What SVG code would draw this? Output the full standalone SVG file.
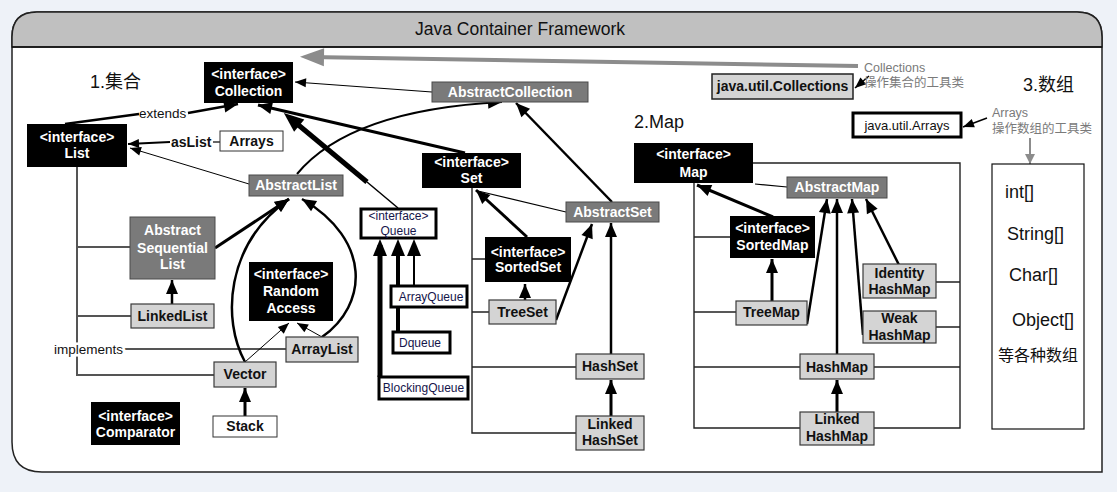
<svg xmlns="http://www.w3.org/2000/svg" width="1117" height="492" viewBox="0 0 1117 492">
<style>
.bk{fill:#000}
.ab{fill:#7a7a7a;stroke:#4a4a4a;stroke-width:1}
.lt{fill:#d4d4d4;stroke:#3a3a3a;stroke-width:1.2}
.wt{fill:#fff;stroke:#333;stroke-width:1}
.qb{fill:#fff;stroke:#000;stroke-width:3}
text{font-family:"Liberation Sans",Arial,"Noto Sans CJK SC",sans-serif}
.b{font-weight:bold;font-size:14px;text-anchor:middle;fill:#111}
.w{fill:#fff}
.q{font-size:12px;text-anchor:middle;fill:#15154a}
.lbl{font-size:13.5px;fill:#111}
.gl{font-size:12.5px;fill:#7a7a7a}
.arr{font-size:18px;fill:#111}
.hd{font-size:18px;fill:#111}
.halo{stroke:#fff;stroke-width:5;paint-order:stroke}
.tl{fill:none;stroke:#555;stroke-width:2}
.tk{fill:none;stroke:#222;stroke-width:1.4}
.c{fill:none;stroke:#000}
</style>
<defs>
<marker id="a" markerUnits="userSpaceOnUse" markerWidth="14" markerHeight="12" refX="14" refY="6" orient="auto" overflow="visible"><path d="M0,0 L14,6 L0,12 z" fill="#000"/></marker>
<marker id="s" markerUnits="userSpaceOnUse" markerWidth="11" markerHeight="9" refX="11" refY="4.5" orient="auto" overflow="visible"><path d="M0,0 L11,4.5 L0,9 z" fill="#000"/></marker>
<marker id="b" markerUnits="userSpaceOnUse" markerWidth="20" markerHeight="16" refX="12" refY="8" orient="auto" overflow="visible"><path d="M0,0 L20,8 L0,16 z" fill="#000"/></marker>
<marker id="q" markerUnits="userSpaceOnUse" markerWidth="17" markerHeight="14" refX="11" refY="7" orient="auto" overflow="visible"><path d="M0,0 L17,7 L0,14 z" fill="#000"/></marker>
<marker id="g" markerUnits="userSpaceOnUse" markerWidth="24" markerHeight="18" refX="14" refY="9" orient="auto" overflow="visible"><path d="M0,0 L24,9 L0,18 z" fill="#8c8c8c"/></marker>
<marker id="gs" markerUnits="userSpaceOnUse" markerWidth="10" markerHeight="10" refX="10" refY="5" orient="auto" overflow="visible"><path d="M0,0 L10,5 L0,10 z" fill="#8c8c8c"/></marker>
</defs>
<rect x="0" y="0" width="1117" height="492" fill="#eef2f8"/>
<g id="frame">
<path d="M12,37 Q12,12 37,12 H1077 Q1102,12 1102,37 V472 H42 Q12,472 12,442 Z" fill="#fff" stroke="#222" stroke-width="1.5"/>
<path d="M12,47 V37 Q12,12 37,12 H1077 Q1102,12 1102,37 V47 Z" fill="#c0c0c0" stroke="#222" stroke-width="1.5"/>
<line x1="12" y1="47" x2="1102" y2="47" stroke="#111" stroke-width="1.5"/>
<text x="520" y="35" font-size="17.5" text-anchor="middle" fill="#111">Java Container Framework</text>
</g>
<g id="headings">
<text class="hd" x="90" y="88">1.集合</text>
<text class="hd" x="634" y="128">2.Map</text>
<text class="hd" x="1023" y="91">3.数组</text>
</g>
<g id="connectors">
<!-- gray util arrow -->
<path d="M858,66 L310,57" stroke="#8c8c8c" stroke-width="4" fill="none" marker-end="url(#g)"/>
<path class="c" d="M869,76 L855,88" stroke-width="1.5" marker-end="url(#s)"/>
<path class="c" d="M987,118 L963,127" stroke-width="1.5" marker-end="url(#s)"/>
<path d="M1030,138 V164" stroke="#8c8c8c" stroke-width="2" fill="none" marker-end="url(#gs)"/>
<!-- list tree -->
<path class="tl" d="M77,167 V375 H214 M77,247 H130 M77,316 H131"/>
<path class="tl" d="M124,349 H286"/>
<!-- extends / asList -->
<path class="c" d="M65,124 L139,114" stroke-width="2.5"/>
<path class="c" d="M188,113 L238,104" stroke-width="2.5" marker-end="url(#a)"/>
<path class="c" d="M220,142 H213" stroke-width="1.2"/>
<path class="c" d="M170,142 L128,144" stroke-width="1.8" marker-end="url(#s)"/>
<path class="c" d="M249,184 L130,148" stroke-width="1" marker-end="url(#s)"/>
<path class="c" d="M215,248 L289,199" stroke-width="3" marker-end="url(#a)"/>
<path class="c" d="M172,304 V280" stroke-width="2.5" marker-end="url(#a)"/>
<path class="c" d="M245,362 C222,320 225,245 289,199" stroke-width="2.5" marker-end="url(#a)"/>
<path class="c" d="M322,337 C368,305 372,240 302,199" stroke-width="2.5" marker-end="url(#a)"/>
<path class="c" d="M245,362 L289,323" stroke-width="1" marker-end="url(#s)"/>
<path class="c" d="M322,337 L297,323" stroke-width="1" marker-end="url(#s)"/>
<path class="c" d="M245,416 V388" stroke-width="3" marker-end="url(#a)"/>
<path class="c" d="M297,174 Q350,110 502,102" stroke-width="2" marker-end="url(#a)"/>
<!-- collection -->
<path class="c" d="M432,92 L295,82" stroke-width="1.2" marker-end="url(#s)"/>
<path class="c" d="M465,153 L258,105" stroke-width="3" marker-end="url(#a)"/>
<path class="c" d="M398,208 L367,182" stroke-width="1.5"/>
<path class="c" d="M367,182 L290,118" stroke-width="5" marker-end="url(#b)"/>
<!-- queue -->
<path class="c" d="M380,377 V245" stroke-width="5" marker-end="url(#q)"/>
<path class="c" d="M398,332 V245" stroke-width="4" marker-end="url(#q)"/>
<path class="c" d="M414,287 V245" stroke-width="2" marker-end="url(#q)"/>
<!-- set -->
<path class="tk" d="M472,188 V433 H576 M472,259 H485 M472,312 H489 M472,367 H576"/>
<path class="c" d="M566,212 L478,191" stroke-width="1.2"/>
<path class="c" d="M527,237 L476,190" stroke-width="3" marker-end="url(#a)"/>
<path class="c" d="M525,300 V284" stroke-width="2.5" marker-end="url(#a)"/>
<path class="c" d="M556,320 L592,224" stroke-width="2.5" marker-end="url(#a)"/>
<path class="c" d="M611,354 V223" stroke-width="2.5" marker-end="url(#a)"/>
<path class="c" d="M611,416 V380" stroke-width="3" marker-end="url(#a)"/>
<path class="c" d="M612,202 L516,103" stroke-width="2.5" marker-end="url(#a)"/>
<!-- map -->
<path class="tk" d="M753,163 H960 V428 H694 V183 M694,237 H730 M694,312 H736 M694,367 H800 M960,282 H936 M960,327 H936 M960,367 H874"/>
<path class="c" d="M787,187 L755,184" stroke-width="1.2"/>
<path class="c" d="M773,217 L697,185" stroke-width="3" marker-end="url(#a)"/>
<path class="c" d="M772,301 V259" stroke-width="3" marker-end="url(#a)"/>
<path class="c" d="M807,324 L827,199" stroke-width="2.5" marker-end="url(#a)"/>
<path class="c" d="M837,354 V199" stroke-width="2.5" marker-end="url(#a)"/>
<path class="c" d="M837,412 V380" stroke-width="3" marker-end="url(#a)"/>
<path class="c" d="M863,335 L852,199" stroke-width="2.5" marker-end="url(#a)"/>
<path class="c" d="M899,265 L866,199" stroke-width="2.5" marker-end="url(#a)"/>
</g>
<g id="connector-labels">
<text class="lbl" x="139" y="118">extends</text>
<text x="171" y="147" font-size="14" font-weight="bold" fill="#111">asList</text>
<text class="lbl halo" x="54" y="354">implements</text>
</g>
<g id="n-collection"><rect class="bk" x="204" y="62" width="89" height="41"/><text class="b w" x="248.5" y="79">&lt;interface&gt;</text><text class="b w" x="248.5" y="96">Collection</text></g>
<g id="n-abstractcollection"><rect class="ab" x="432" y="82" width="156" height="20"/><text class="b w" x="510" y="97">AbstractCollection</text></g>
<g id="n-list"><rect class="bk" x="27" y="124" width="100" height="43"/><text class="b w" x="77" y="142">&lt;interface&gt;</text><text class="b w" x="77" y="158">List</text></g>
<g id="n-arrays"><rect class="wt" x="220" y="131" width="63" height="20"/><text class="b" x="251.5" y="146">Arrays</text></g>
<g id="n-abstractlist"><rect class="ab" x="249" y="175" width="94" height="21"/><text class="b w" x="296" y="190">AbstractList</text></g>
<g id="n-abstractsequentiallist"><rect class="ab" x="130" y="217" width="85" height="62"/><text class="b w" x="172.5" y="235">Abstract</text><text class="b w" x="172.5" y="253">Sequential</text><text class="b w" x="172.5" y="269">List</text></g>
<g id="n-linkedlist"><rect class="lt" x="131" y="304" width="83" height="24"/><text class="b" x="172.5" y="321">LinkedList</text></g>
<g id="n-randomaccess"><rect class="bk" x="249" y="262" width="84" height="59"/><text class="b w" x="291" y="279">&lt;interface&gt;</text><text class="b w" x="291" y="296">Random</text><text class="b w" x="291" y="313">Access</text></g>
<g id="n-arraylist"><rect class="lt" x="286" y="337" width="72" height="25"/><text class="b" x="322" y="354">ArrayList</text></g>
<g id="n-vector"><rect class="lt" x="214" y="362" width="62" height="25"/><text class="b" x="245" y="379">Vector</text></g>
<g id="n-stack"><rect class="wt" x="213" y="416" width="64" height="21"/><text class="b" x="245" y="431">Stack</text></g>
<g id="n-comparator"><rect class="bk" x="91" y="402" width="89" height="43"/><text class="b w" x="135.5" y="421">&lt;interface&gt;</text><text class="b w" x="135.5" y="437">Comparator</text></g>
<g id="n-queue"><rect class="qb" x="361" y="209" width="75" height="29"/><text class="q" x="398.5" y="220">&lt;interface&gt;</text><text class="q" x="398.5" y="235">Queue</text></g>
<g id="n-arrayqueue"><rect class="qb" x="391" y="286" width="76" height="21"/><text class="q" x="431" y="301">ArrayQueue</text></g>
<g id="n-dqueue"><rect class="qb" x="393" y="332" width="57" height="21"/><text class="q" x="420" y="347">Dqueue</text></g>
<g id="n-blockingqueue"><rect class="qb" x="379" y="377" width="89" height="22"/><text class="q" x="423.5" y="392">BlockingQueue</text></g>
<g id="n-set"><rect class="bk" x="422" y="153" width="99" height="35"/><text class="b w" x="471.5" y="167">&lt;interface&gt;</text><text class="b w" x="471.5" y="183">Set</text></g>
<g id="n-abstractset"><rect class="ab" x="566" y="202" width="93" height="20"/><text class="b w" x="612.5" y="217">AbstractSet</text></g>
<g id="n-sortedset"><rect class="bk" x="485" y="237" width="86" height="45"/><text class="b w" x="528" y="257">&lt;interface&gt;</text><text class="b w" x="528" y="272">SortedSet</text></g>
<g id="n-treeset"><rect class="lt" x="489" y="300" width="67" height="24"/><text class="b" x="522.5" y="317">TreeSet</text></g>
<g id="n-hashset"><rect class="lt" x="576" y="354" width="68" height="25"/><text class="b" x="610" y="371">HashSet</text></g>
<g id="n-linkedhashset"><rect class="lt" x="576" y="416" width="68" height="34"/><text class="b" x="610" y="429">Linked</text><text class="b" x="610" y="445">HashSet</text></g>
<g id="n-map"><rect class="bk" x="634" y="143" width="119" height="40"/><text class="b w" x="693.5" y="159">&lt;interface&gt;</text><text class="b w" x="693.5" y="177">Map</text></g>
<g id="n-abstractmap"><rect class="ab" x="787" y="177" width="100" height="21"/><text class="b w" x="837" y="192">AbstractMap</text></g>
<g id="n-sortedmap"><rect class="bk" x="730" y="216" width="85" height="42"/><text class="b w" x="772.5" y="233">&lt;interface&gt;</text><text class="b w" x="772.5" y="250">SortedMap</text></g>
<g id="n-treemap"><rect class="lt" x="736" y="301" width="71" height="24"/><text class="b" x="771.5" y="317">TreeMap</text></g>
<g id="n-hashmap"><rect class="lt" x="800" y="354" width="74" height="25"/><text class="b" x="837" y="372">HashMap</text></g>
<g id="n-linkedhashmap"><rect class="lt" x="800" y="412" width="74" height="33"/><text class="b" x="837" y="424">Linked</text><text class="b" x="837" y="441">HashMap</text></g>
<g id="n-identityhashmap"><rect class="lt" x="863" y="264" width="73" height="34"/><text class="b" x="899.5" y="278">Identity</text><text class="b" x="899.5" y="294">HashMap</text></g>
<g id="n-weakhashmap"><rect class="lt" x="863" y="311" width="73" height="32"/><text class="b" x="899.5" y="323">Weak</text><text class="b" x="899.5" y="340">HashMap</text></g>
<g id="n-collections"><rect x="712" y="74" width="141" height="25" fill="#d4d4d4" stroke="#222" stroke-width="1.5"/><text class="b" x="782.5" y="91">java.util.Collections</text></g>
<g id="n-collections-label"><text class="gl" x="864" y="72" font-size="12">Collections</text><text class="gl" x="864" y="87">操作集合的工具类</text></g>
<g id="n-utilarrays"><rect class="qb" x="853" y="113" width="108" height="24"/><text x="907" y="130" font-size="13" text-anchor="middle" fill="#111">java.util.Arrays</text></g>
<g id="n-arrays-label"><text class="gl" x="992" y="117" font-size="12">Arrays</text><text class="gl" x="992" y="133">操作数组的工具类</text></g>
<g id="n-arraybox"><rect x="992" y="164" width="92" height="265" fill="#fff" stroke="#111" stroke-width="1.2"/>
<text class="arr" x="1005" y="198">int[]</text>
<text class="arr" x="1007" y="240">String[]</text>
<text class="arr" x="1009" y="281">Char[]</text>
<text class="arr" x="1012" y="326">Object[]</text>
<text x="998" y="361" font-size="16" fill="#111">等各种数组</text></g>
</svg>
